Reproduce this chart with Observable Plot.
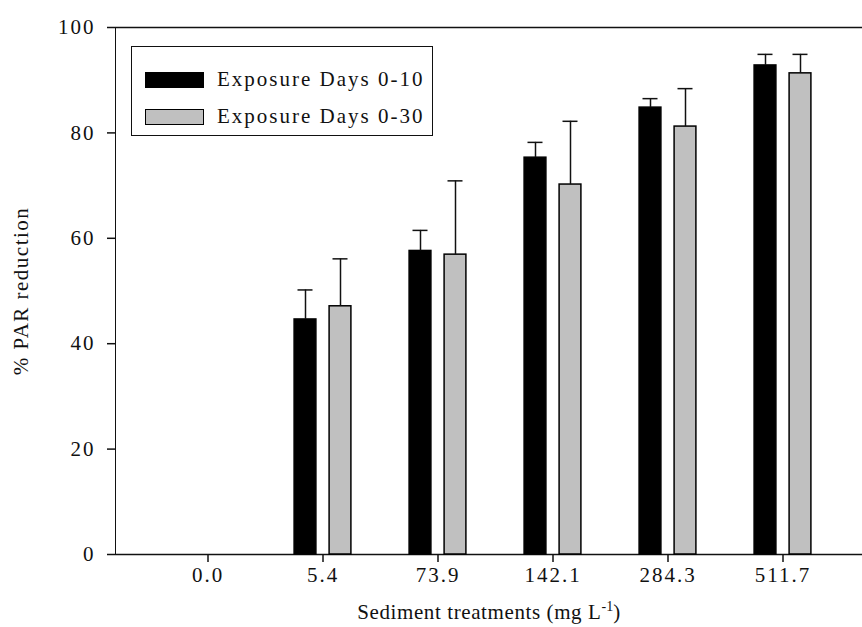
<!DOCTYPE html>
<html>
<head>
<meta charset="utf-8">
<script src="https://cdn.jsdelivr.net/npm/d3@7"></script>
<script src="https://cdn.jsdelivr.net/npm/@observablehq/plot@0.6"></script>
<style>
  html, body { margin: 0; padding: 0; background: #fff; overflow: hidden; }
  #wrap { position: relative; width: 862px; height: 627px;
    font-family: "Liberation Serif", "Times New Roman", serif; color: #111; }
  #legend {
    position: absolute; left: 131px; top: 46px; width: 300px; height: 88px;
    border: 1.5px solid #111; background: #fff; box-sizing: content-box;
    font-size: 21px; letter-spacing: 2px;
  }
  .lrow { position: absolute; left: 13px; display: flex; align-items: center; }
  .sw { width: 57px; height: 14px; border: 1.5px solid #000; margin-right: 13px; }
  .axlabel { position: absolute; font-size: 21px; white-space: nowrap; line-height: 1; }
  #ylab { left: 21px; top: 291px; transform: translate(-50%, -50%) rotate(-90deg); letter-spacing: 1.5px; }
  #xlab { left: 489px; top: 611px; transform: translate(-50%, -50%); letter-spacing: 0.6px; }
  #xlab sup { font-size: 14px; vertical-align: 8px; letter-spacing: 0; }
  svg text { letter-spacing: 2px; }
  svg g[aria-label="y-axis tick"] path, svg g[aria-label="x-axis tick"] path { stroke-width: 1.5; }
</style>
</head>
<body>
<div id="wrap"></div>
<script>
const categories = ["0.0", "5.4", "73.9", "142.1", "284.3", "511.7"];
const seriesNames = ["Exposure Days 0-10", "Exposure Days 0-30"];
const seriesColors = ["#000000", "#c0c0c0"];
const days10 = [0, 44.6, 57.6, 75.3, 84.8, 92.8];
const days10Err = [0, 5.6, 3.9, 2.9, 1.7, 2.1];
const days30 = [0, 47.1, 56.9, 70.2, 81.2, 91.3];
const days30Err = [0, 9.0, 14.0, 12.0, 7.2, 3.6];
const yTicks = [0, 20, 40, 60, 80, 100];
const xTitle = "Sediment treatments (mg L";
const xTitleSup = "-1";
const yTitle = "% PAR reduction";

const rows = [];
categories.forEach((c, i) => {
  rows.push({cat: c, series: seriesNames[0], value: days10[i], err: days10Err[i]});
  rows.push({cat: c, series: seriesNames[1], value: days30[i], err: days30Err[i]});
});
const shown = rows.filter(d => d.value > 0);
const s0 = shown.filter(d => d.series === seriesNames[0]);
const s1 = shown.filter(d => d.series === seriesNames[1]);

const off = 17.5;      // half distance between paired bar centres (px)
const barInset = 46.6; // makes bars ~22px wide
const capInset = 50;   // makes caps ~15px wide

const chart = Plot.plot({
  width: 862,
  height: 627,
  marginLeft: 115,
  marginRight: 0,
  marginTop: 27,
  marginBottom: 73,
  style: {fontFamily: "Liberation Serif, Times New Roman, serif", fontSize: "21px", color: "#111", background: "#fff"},
  x: {domain: categories, paddingInner: 0, paddingOuter: 0.242, align: 0.61,
      tickSize: 8, tickPadding: 5, label: null},
  y: {domain: [0, 100], ticks: yTicks, tickSize: 8, tickPadding: 12, line: true, label: null},
  marks: [
    Plot.ruleY([0, 100], {stroke: "#111", strokeWidth: 1.5}),
    Plot.barY(s0, {x: "cat", y: "value", fill: seriesColors[0], stroke: "#000", strokeWidth: 1.5, dx: -off, insetLeft: barInset, insetRight: barInset}),
    Plot.barY(s1, {x: "cat", y: "value", fill: seriesColors[1], stroke: "#000", strokeWidth: 1.5, dx: off, insetLeft: barInset, insetRight: barInset}),
    Plot.ruleX(s0, {x: "cat", y1: "value", y2: d => d.value + d.err, dx: -off, stroke: "#111", strokeWidth: 1.5}),
    Plot.ruleX(s1, {x: "cat", y1: "value", y2: d => d.value + d.err, dx: off, stroke: "#111", strokeWidth: 1.5}),
    Plot.tickY(s0, {x: "cat", y: d => d.value + d.err, dx: -off, insetLeft: capInset, insetRight: capInset, stroke: "#111", strokeWidth: 1.5}),
    Plot.tickY(s1, {x: "cat", y: d => d.value + d.err, dx: off, insetLeft: capInset, insetRight: capInset, stroke: "#111", strokeWidth: 1.5})
  ]
});

const wrap = document.getElementById("wrap");
wrap.appendChild(chart);

const legend = document.createElement("div");
legend.id = "legend";
seriesNames.forEach((name, i) => {
  const row = document.createElement("div");
  row.className = "lrow";
  row.style.top = (i === 0 ? 20 : 57) + "px";
  const sw = document.createElement("div");
  sw.className = "sw";
  sw.style.background = seriesColors[i];
  const t = document.createElement("span");
  t.textContent = name;
  row.appendChild(sw);
  row.appendChild(t);
  legend.appendChild(row);
});
wrap.appendChild(legend);

const ylab = document.createElement("div");
ylab.className = "axlabel";
ylab.id = "ylab";
ylab.textContent = yTitle;
wrap.appendChild(ylab);

const xlab = document.createElement("div");
xlab.className = "axlabel";
xlab.id = "xlab";
xlab.appendChild(document.createTextNode(xTitle));
const sup = document.createElement("sup");
sup.textContent = xTitleSup;
xlab.appendChild(sup);
xlab.appendChild(document.createTextNode(")"));
wrap.appendChild(xlab);
</script>
</body>
</html>
